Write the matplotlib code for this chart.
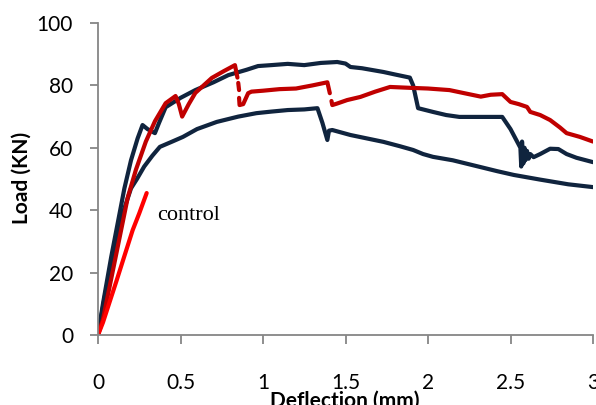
import numpy as np
import matplotlib
matplotlib.use("Agg")
import matplotlib.pyplot as plt

# Upper navy specimen
xa = [0, 0.03, 0.08, 0.12, 0.16, 0.2, 0.24, 0.27, 0.30, 0.345, 0.37, 0.41, 0.5, 0.59, 0.7, 0.79, 0.9, 0.97,
      1.05, 1.15, 1.25, 1.35, 1.45, 1.5, 1.53, 1.6, 1.73, 1.8, 1.89, 1.91, 1.94, 2.03, 2.11, 2.19, 2.3, 2.45,
      2.5, 2.56, 2.565, 2.57, 2.578, 2.585, 2.59, 2.6, 2.61, 2.62, 2.64, 2.68, 2.74, 2.79, 2.84, 2.9, 3.0]
ya = [0, 10, 25, 36, 47, 56, 63, 67.3, 66, 64.7, 68, 73, 76, 78.5, 81, 83.3, 85, 86.2,
      86.5, 86.9, 86.5, 87.2, 87.5, 87, 85.9, 85.5, 84.3, 83.5, 82.5, 80, 72.7, 71.5, 70.5, 69.9, 69.9, 69.9,
      66, 60, 54, 62, 55, 60, 56, 59, 56.5, 58, 57, 58, 59.7, 59.6, 58, 56.8, 55.4]

# Lower navy specimen
xb = [0, 0.04, 0.1, 0.15, 0.2, 0.236, 0.28, 0.33, 0.375, 0.45, 0.515, 0.6, 0.72, 0.85, 0.96, 1.05, 1.15,
      1.25, 1.33, 1.36, 1.39, 1.40, 1.42, 1.53, 1.63, 1.73, 1.83, 1.91, 1.97, 2.03, 2.15, 2.32, 2.42, 2.52,
      2.68, 2.85, 3.0]
yb = [0, 12, 28, 39, 47, 50, 54, 57.5, 60.3, 62, 63.5, 66, 68.3, 70, 71.1, 71.6, 72.1,
      72.3, 72.7, 68, 62.5, 65.5, 65.7, 64.1, 63, 61.9, 60.5, 59.3, 58, 57.1, 56, 53.8, 52.5, 51.3,
      49.8, 48.3, 47.4]

# Dark red specimen (gaps = missing readings)
xc = [0, 0.03, 0.08, 0.13, 0.18, 0.23, 0.29, 0.345, 0.41, 0.47, 0.49, 0.51, 0.55, 0.59, 0.69, 0.76, 0.83,
      0.845, np.nan, 0.85, 0.855, np.nan, 0.855, 0.858, 0.88, 0.91, 0.93, 1.0, 1.1, 1.2, 1.3, 1.39, 1.405,
      np.nan, 1.415, 1.42, 1.45, 1.51, 1.59, 1.68, 1.77, 1.9, 2.0, 2.13, 2.22, 2.32, 2.38, 2.45, 2.5, 2.55,
      2.6, 2.62, 2.68, 2.74, 2.8, 2.84, 2.92, 3.0]
yc = [0, 5, 18, 31, 44, 53, 62, 68.5, 74.3, 76.6, 74, 70, 74, 77.6, 82.4, 84.5, 86.5,
      82.5, np.nan, 80.8, 78.5, np.nan, 76, 73.7, 74, 77.5, 78, 78.3, 78.8, 79, 80, 81, 77.5,
      np.nan, 75, 73.7, 74.2, 75.3, 76.3, 78, 79.5, 79.2, 79, 78.5, 77.5, 76.4, 77, 77.2, 74.7, 74,
      73.1, 71.5, 70.5, 68.9, 66.5, 64.7, 63.5, 62]

# Control specimen
xctrl = [0, 0.03, 0.073, 0.11, 0.152, 0.21, 0.25, 0.295]
yctrl = [0, 4, 11, 17, 24, 33.6, 39, 45.5]

xticks = [0, 0.5, 1, 1.5, 2, 2.5, 3]
xticklabels = ["0", "0.5", "1", "1.5", "2", "2.5", "3"]
yticks = [0, 20, 40, 60, 80, 100]

plt.rcParams['font.family'] = ['Lato', 'DejaVu Sans']

fig = plt.figure(figsize=(5.96, 4.05), dpi=100)
ax = fig.add_axes([98/596, 70/405, 495/596, 312/405])

navy = '#10243E'
lw = 3.0
ax.plot(xb, yb, color=navy, lw=lw, solid_joinstyle='round', solid_capstyle='round')
ax.plot(xa, ya, color=navy, lw=lw, solid_joinstyle='round', solid_capstyle='round')
ax.plot(xc, yc, color='#C00000', lw=lw, solid_joinstyle='round', solid_capstyle='round')
ax.plot(xctrl, yctrl, color='#FF0000', lw=lw, solid_joinstyle='round', solid_capstyle='round')

ax.text(0.357, 37, 'control', family='Liberation Serif', fontsize=16, va='baseline', ha='left')

ax.set_xlim(0, 3)
ax.set_ylim(0, 100)
ax.set_xticks(xticks)
ax.set_xticklabels(xticklabels)
ax.set_yticks(yticks)
for s in ['top', 'right']:
    ax.spines[s].set_visible(False)
for s in ['left', 'bottom']:
    ax.spines[s].set_color('#868686')
    ax.spines[s].set_linewidth(1.3)
ax.tick_params(axis='x', direction='out', length=6.5, width=1.3, color='#868686', pad=21, labelsize=15)
ax.tick_params(axis='y', direction='out', length=6, width=1.3, color='#868686', pad=12, labelsize=15)

fig.text(345/596, -0.004, 'Deflection (mm)', fontsize=15, fontweight='bold', ha='center', va='baseline')
fig.text(22/596, (405-178)/405, 'Load (KN)', fontsize=15, fontweight='bold', ha='center', va='center', rotation=90)

fig.savefig('out.png', dpi=100)
